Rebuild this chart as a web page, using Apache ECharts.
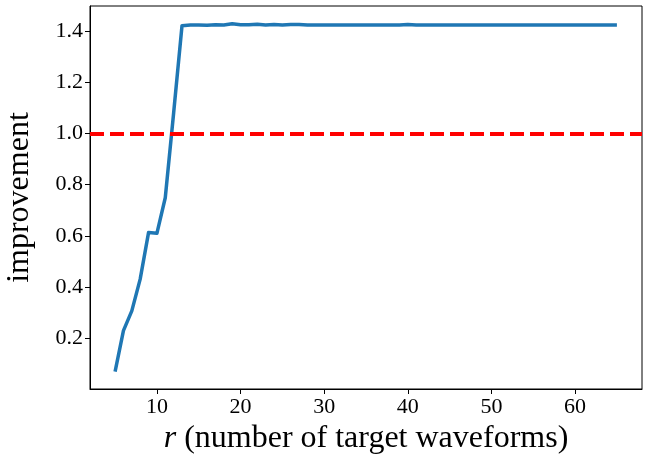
<!DOCTYPE html>
<html>
<head>
<meta charset="utf-8">
<script src="https://cdn.jsdelivr.net/npm/echarts@6/dist/echarts.min.js"></script>
<style>
  html, body { margin: 0; padding: 0; background: #fff; }
  #chart { width: 646px; height: 456px; }
</style>
</head>
<body>
<div id="chart"></div>
<script>
// number of target waveforms
const rValues = [5, 6, 7, 8, 9, 10, 11, 12, 13, 14, 15, 16, 17, 18, 19, 20,
  21, 22, 23, 24, 25, 26, 27, 28, 29, 30, 31, 32, 33, 34, 35, 36, 37, 38, 39, 40,
  41, 42, 43, 44, 45, 46, 47, 48, 49, 50, 51, 52, 53, 54, 55, 56, 57, 58, 59, 60,
  61, 62, 63, 64, 65];

// measured improvement for each r
const improvement = [0.07, 0.23, 0.307, 0.431, 0.613, 0.61, 0.749, 1.08, 1.421, 1.424,
  1.424, 1.423, 1.425, 1.424, 1.429, 1.425, 1.425, 1.427, 1.424, 1.426,
  1.424, 1.426, 1.426, 1.424, 1.424, 1.424, 1.424, 1.424, 1.424, 1.424,
  1.424, 1.424, 1.424, 1.424, 1.424, 1.426, 1.424, 1.424, 1.424, 1.424,
  1.424, 1.424, 1.424, 1.424, 1.424, 1.424, 1.424, 1.424, 1.424, 1.424,
  1.424, 1.424, 1.424, 1.424, 1.424, 1.424, 1.424, 1.424, 1.424, 1.424,
  1.424];

// break-even reference level
const baseline = 1.0;

const xTicks = [10, 20, 30, 40, 50, 60];
const yTicks = [0.2, 0.4, 0.6, 0.8, 1.0, 1.2, 1.4];

const FONT = '"Liberation Serif", "DejaVu Serif", serif';

const chart = echarts.init(document.getElementById('chart'), null, { renderer: 'canvas' });

chart.setOption({
  animation: false,
  backgroundColor: '#ffffff',
  grid: {
    left: 90, right: 4, top: 6, bottom: 67,
    containLabel: false,
    outerBoundsMode: 'none',
    show: true, borderColor: '#000', borderWidth: 1, backgroundColor: 'transparent'
  },
  xAxis: {
    type: 'value',
    min: 2, max: 68,
    name: '{i|r} (number of target waveforms)',
    nameLocation: 'middle',
    nameGap: 30,
    nameTextStyle: {
      fontFamily: FONT, fontSize: 32, color: '#000',
      rich: { i: { fontFamily: FONT, fontSize: 32, fontStyle: 'italic', color: '#000' } }
    },
    axisLine: { show: true, lineStyle: { color: '#000', width: 1 } },
    axisTick: { show: true, inside: false, length: 5, customValues: xTicks, lineStyle: { color: '#000', width: 1 } },
    axisLabel: { customValues: xTicks, fontFamily: FONT, fontSize: 22, color: '#000', margin: 7 },
    splitLine: { show: false }
  },
  yAxis: {
    type: 'value',
    min: 0.002, max: 1.498,
    name: 'improvement',
    nameLocation: 'middle',
    nameGap: 54,
    nameRotate: 90,
    nameTextStyle: { fontFamily: FONT, fontSize: 32, color: '#000' },
    axisLine: { show: true, lineStyle: { color: '#000', width: 1 } },
    axisTick: { show: true, inside: false, length: 5, customValues: yTicks, lineStyle: { color: '#000', width: 1 } },
    axisLabel: {
      customValues: yTicks, fontFamily: FONT, fontSize: 22, color: '#000', margin: 7,
      formatter: v => v.toFixed(1)
    },
    splitLine: { show: false }
  },
  series: [{
    type: 'line',
    data: rValues.map((r, i) => [r, improvement[i]]),
    showSymbol: false,
    smooth: false,
    lineStyle: { color: '#1f77b4', width: 3.5, join: 'round', cap: 'butt' },
    itemStyle: { color: '#1f77b4' },
    markLine: {
      silent: true,
      symbol: 'none',
      label: { show: false },
      lineStyle: { color: '#ff0000', width: 4, type: [14, 6] },
      data: [{ yAxis: baseline }]
    }
  }]
});
</script>
</body>
</html>
